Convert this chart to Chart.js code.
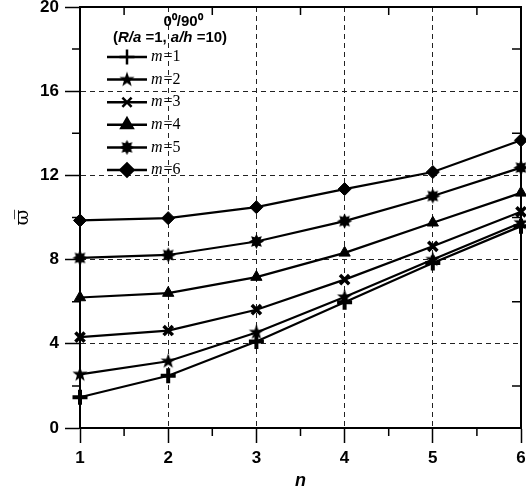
<!DOCTYPE html>
<html>
<head>
<meta charset="utf-8">
<script src="https://cdn.jsdelivr.net/npm/chart.js@4/dist/chart.umd.min.js"></script>
<style>
  html, body { margin: 0; padding: 0; background: #fff; }
</style>
</head>
<body>
<canvas id="chart" width="526" height="490"></canvas>
<script>
// data: frequency parameter vs n, one series per m
const nValues = [1, 2, 3, 4, 5, 6];
const m1 = [1.46, 2.48, 4.11, 5.97, 7.84, 9.59];
const m2 = [2.55, 3.17, 4.54, 6.22, 8.00, 9.75];
const m3 = [4.32, 4.63, 5.62, 7.05, 8.63, 10.27];
const m4 = [6.20, 6.41, 7.17, 8.32, 9.75, 11.17];
const m5 = [8.08, 8.22, 8.86, 9.83, 11.02, 12.37];
const m6 = [9.86, 9.97, 10.49, 11.35, 12.16, 13.67];
const mLabels = ['1', '2', '3', '4', '5', '6'];
const xMinorTicks = [1.5, 2.5, 3.5, 4.5, 5.5];
const yMinorTicks = [2, 6, 10, 14, 18];

// small filled star markers drawn onto canvases
const makeStar = (points, outer, inner) => {
    const c = document.createElement('canvas');
    const size = outer * 2 + 2;
    c.width = size;
    c.height = size;
    const g = c.getContext('2d');
    g.fillStyle = '#000';
    g.beginPath();
    for (let i = 0; i < points * 2; i++) {
        const r = i % 2 === 0 ? outer : inner;
        const a = -Math.PI / 2 + i * Math.PI / points;
        const px = size / 2 + r * Math.cos(a);
        const py = size / 2 + r * Math.sin(a);
        if (i === 0) g.moveTo(px, py); else g.lineTo(px, py);
    }
    g.closePath();
    g.fill();
    return c;
};
const star5 = makeStar(5, 8, 3.2);
const burst8 = makeStar(8, 7.5, 4.5);

const markers = [
    { pointStyle: 'cross', radius: 7.5, borderWidth: 4 },
    { pointStyle: star5, radius: 7, borderWidth: 1 },
    { pointStyle: 'crossRot', radius: 6.5, borderWidth: 3.5 },
    { pointStyle: 'triangle', radius: 6.5, borderWidth: 1 },
    { pointStyle: burst8, radius: 7, borderWidth: 1 },
    { pointStyle: 'rectRot', radius: 6.5, borderWidth: 1 }
];

const series = [m1, m2, m3, m4, m5, m6];
const datasets = series.map((vals, i) => ({
    label: 'm=' + mLabels[i],
    data: nValues.map((n, j) => ({ x: n, y: vals[j] })),
    borderColor: '#000',
    backgroundColor: '#000',
    borderWidth: 2.2,
    pointStyle: markers[i].pointStyle,
    pointRadius: markers[i].radius,
    pointBorderWidth: markers[i].borderWidth,
    pointBackgroundColor: '#000',
    pointBorderColor: '#000',
    tension: 0,
    clip: false
}));

// frame around plot + minor ticks
const framePlugin = {
    id: 'frame',
    beforeDatasetsDraw(chart) {
        const { ctx, chartArea: a, scales } = chart;
        ctx.save();
        ctx.strokeStyle = '#000';
        ctx.lineWidth = 2;
        ctx.strokeRect(a.left, a.top, a.right - a.left, a.bottom - a.top);
        ctx.lineWidth = 1.5;
        ctx.beginPath();
        xMinorTicks.forEach(v => {
            const x = scales.x.getPixelForValue(v);
            ctx.moveTo(x, a.bottom); ctx.lineTo(x, a.bottom + 8);
            ctx.moveTo(x, a.top); ctx.lineTo(x, a.top + 8);
        });
        yMinorTicks.forEach(v => {
            const y = scales.y.getPixelForValue(v);
            ctx.moveTo(a.left - 8, y); ctx.lineTo(a.left, y);
            ctx.moveTo(a.right - 9, y); ctx.lineTo(a.right, y);
        });
        ctx.stroke();
        ctx.restore();
    }
};

// legend box inside the plot, with line + marker samples
const legendPlugin = {
    id: 'boxLegend',
    afterDraw(chart) {
        const ctx = chart.ctx;
        ctx.save();
        ctx.fillStyle = '#000';
        ctx.textBaseline = 'middle';
        ctx.textAlign = 'left';

        ctx.font = 'bold 15px "Liberation Sans", Arial, sans-serif';
        const t1 = '0\u2070/90\u2070';
        ctx.fillText(t1, 183 - ctx.measureText(t1).width / 2, 22);

        const parts = [
            ['(', 'bold'], ['R/a', 'italic bold'], [' =1, ', 'bold'],
            ['a/h', 'italic bold'], [' =10)', 'bold']
        ];
        let total = 0;
        parts.forEach(p => {
            ctx.font = p[1] + ' 15px "Liberation Sans", Arial, sans-serif';
            total += ctx.measureText(p[0]).width;
        });
        let x = 170 - total / 2;
        parts.forEach(p => {
            ctx.font = p[1] + ' 15px "Liberation Sans", Arial, sans-serif';
            ctx.fillText(p[0], x, 38);
            x += ctx.measureText(p[0]).width;
        });

        chart.data.datasets.forEach((ds, i) => {
            const y = 57 + i * 22.6;
            ctx.strokeStyle = '#000';
            ctx.lineWidth = 2.5;
            ctx.beginPath();
            ctx.moveTo(107, y);
            ctx.lineTo(147, y);
            ctx.stroke();
            Chart.helpers.drawPoint(ctx, {
                pointStyle: ds.pointStyle,
                radius: ds.pointRadius,
                borderWidth: ds.pointBorderWidth,
                rotation: 0
            }, 127, y);
            ctx.fillStyle = '#000';
            ctx.font = 'italic 16px "Liberation Serif", "Times New Roman", serif';
            ctx.fillText('m', 151, y);
            const w = ctx.measureText('m').width;
            ctx.font = '16px "Liberation Serif", "Times New Roman", serif';
            ctx.fillText('=' + mLabels[i], 151 + w + 1, y);
        });
        ctx.restore();
    }
};

const ctx = document.getElementById('chart').getContext('2d');
const chart = new Chart(ctx, {
    type: 'line',
    data: { datasets },
    plugins: [framePlugin, legendPlugin],
    options: {
        responsive: false,
        animation: false,
        layout: { autoPadding: false, padding: { top: 7, right: 5, left: 0, bottom: 0 } },
        plugins: {
            legend: { display: false },
            tooltip: { enabled: false }
        },
        scales: {
            x: {
                type: 'linear',
                min: 1,
                max: 6,
                afterFit: (s) => { s.height = 62; s.paddingRight = 0; s.paddingLeft = 0; },
                ticks: {
                    stepSize: 1,
                    color: '#000',
                    padding: 5,
                    font: { family: '"Liberation Sans", Arial, sans-serif', size: 17, weight: 'bold' }
                },
                grid: {
                    color: '#222',
                    lineWidth: 1,
                    tickLength: 15,
                    tickColor: '#000',
                    tickWidth: 1.5
                },
                border: { display: true, color: '#000', width: 2, dash: [5, 4] },
                title: {
                    display: true,
                    text: 'n',
                    color: '#000',
                    padding: { top: 0, bottom: -2 },
                    font: { family: '"Liberation Sans", Arial, sans-serif', size: 18, weight: 'bold', style: 'italic' }
                }
            },
            y: {
                min: 0,
                max: 20,
                afterFit: (s) => { s.width = 80; s.paddingTop = 0; s.paddingBottom = 0; },
                ticks: {
                    stepSize: 4,
                    color: '#000',
                    padding: 6,
                    font: { family: '"Liberation Sans", Arial, sans-serif', size: 17, weight: 'bold' }
                },
                grid: {
                    color: '#222',
                    lineWidth: 1,
                    tickLength: 15,
                    tickColor: '#000',
                    tickWidth: 1.5
                },
                border: { display: true, color: '#000', width: 2, dash: [5, 4] },
                title: {
                    display: true,
                    text: '\u03D6\u0305',
                    color: '#000',
                    padding: { top: 12, bottom: 0 },
                    font: { family: '"DejaVu Serif", serif', size: 19 }
                }
            }
        }
    }
});
</script>
</body>
</html>
